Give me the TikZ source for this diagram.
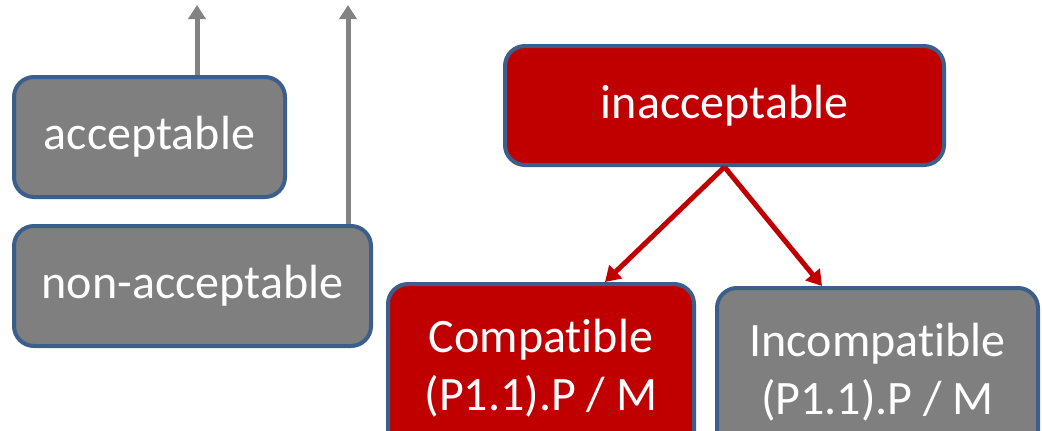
\documentclass[tikz,border=0pt]{standalone}
\usepackage{fontspec}
\setmainfont{Carlito}[Ligatures={NoCommon}]
\usetikzlibrary{arrows.meta}
\definecolor{boxgray}{RGB}{127,127,127}
\definecolor{boxred}{RGB}{192,0,0}
\definecolor{boxborder}{RGB}{59,94,140}
\definecolor{arrgray}{RGB}{130,130,130}
\tikzset{
  card/.style={draw=boxborder, line width=4pt, rounded corners=20pt, inner sep=0pt,
    text=white, align=center, font=\fontsize{48}{55}\selectfont},
  graycard/.style={card, fill=boxgray},
  redcard/.style={card, fill=boxred},
  grayarrow/.style={draw=arrgray, line width=5pt, -{Triangle[length=14pt,width=17pt]}},
  redarrow/.style={draw=boxred, line width=5pt, -{Triangle[length=15pt,width=18pt]}}
}
\begin{document}
\begin{tikzpicture}[x=1pt,y=-1pt]
\useasboundingbox (0,0) rectangle (1042,431);
\clip (0,0) rectangle (1042,431);
\node[graycard, minimum width=271pt, minimum height=120pt] (acc) at (149.5,137) {acceptable};
\node[graycard, minimum width=357pt, minimum height=120pt] (nonacc) at (192.5,286) {non-acceptable};
\node[redcard, minimum width=439pt, minimum height=119pt] (inacc) at (724.5,105.5) {inacceptable};
\node[redcard, minimum width=306pt, minimum height=168pt] (comp) at (541,368) {Compatible\\[3pt](P1.1).P / M};
\node[graycard, minimum width=321pt, minimum height=168pt] (incomp) at (877.5,372) {Incompatible\\[3pt](P1.1).P / M};
\coordinate (up1) at (197,5);
\coordinate (up2) at (348,5);
\draw[grayarrow] (acc.north -| up1) -- (up1);
\draw[grayarrow] (nonacc.north -| up2) -- (up2);
\draw[redarrow] (inacc.south) -- (comp.north -| 605,0);
\draw[redarrow] (inacc.south) -- (incomp.north -| 822,0);
\end{tikzpicture}
\end{document}
